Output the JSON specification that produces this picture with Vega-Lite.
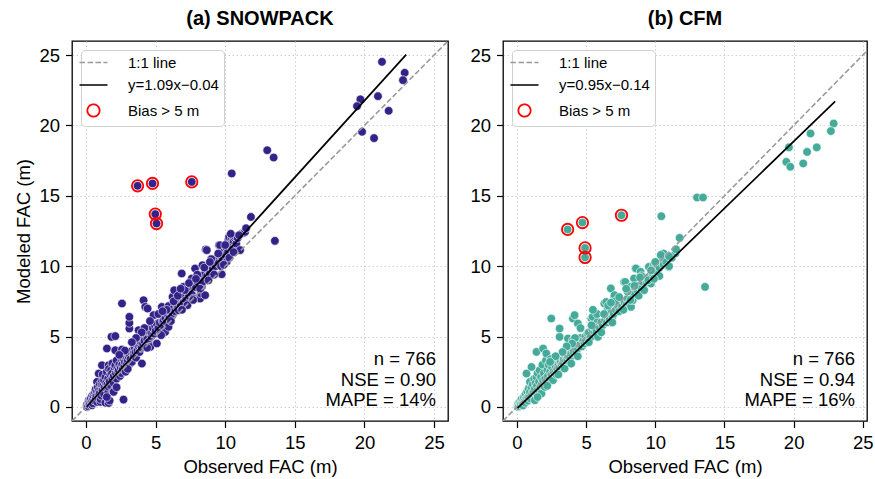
{
  "$schema": "https://vega.github.io/schema/vega-lite/v6.json",
  "background": "white",
  "padding": {"left": 14, "top": 8, "right": 0, "bottom": 0},
  "config": {
    "font": "Liberation Sans",
    "view": {"stroke": "black", "strokeWidth": 1.3},
    "axis": {"domain": false, "grid": true, "gridColor": "#c8c8c8", "gridDash": [1.5, 2.5], "gridWidth": 0.9,
             "tickColor": "black", "tickSize": 6.5, "tickWidth": 1.2, "labelFontSize": 18.5, "labelColor": "black",
             "labelPadding": 6, "titleFontSize": 18.5, "titleFontWeight": "normal", "titleColor": "black",
             "titlePadding": 5, "labelFlush": false},
    "title": {"fontSize": 20, "fontWeight": "bold", "color": "black", "offset": 12},
    "concat": {"spacing": 20}
  },
  "datasets": {
    "snow": [
      {"obs":0.05,"mod":0.1},{"obs":0.08,"mod":0.0},{"obs":0.1,"mod":0.2},{"obs":0.15,"mod":0.05},{"obs":0.2,"mod":0.48},{"obs":0.2,"mod":0.3},{"obs":0.25,"mod":0.15},{"obs":0.3,"mod":0.5},{"obs":0.3,"mod":0.25},{"obs":0.35,"mod":0.6},{"obs":0.4,"mod":0.35},{"obs":0.44,"mod":0.12},{"obs":0.45,"mod":0.8},{"obs":0.5,"mod":0.55},{"obs":0.5,"mod":0.25},{"obs":0.55,"mod":0.75},{"obs":0.6,"mod":0.95},{"obs":0.6,"mod":0.45},{"obs":0.65,"mod":1.05},{"obs":0.7,"mod":0.65},{"obs":0.7,"mod":1.25},{"obs":0.75,"mod":0.85},{"obs":0.8,"mod":0.35},{"obs":0.8,"mod":1.1},{"obs":0.8,"mod":1.78},{"obs":0.85,"mod":1.4},{"obs":0.9,"mod":0.9},{"obs":0.9,"mod":0.6},{"obs":0.92,"mod":2.37},{"obs":0.95,"mod":1.2},{"obs":1.0,"mod":1.0},{"obs":1.0,"mod":1.6},{"obs":1.04,"mod":0.36},{"obs":1.05,"mod":0.55},{"obs":1.1,"mod":1.3},{"obs":1.1,"mod":0.8},{"obs":1.15,"mod":1.8},{"obs":1.15,"mod":1.54},{"obs":1.15,"mod":2.96},{"obs":1.2,"mod":1.2},{"obs":1.2,"mod":2.3},
      {"obs":1.25,"mod":1.5},{"obs":1.3,"mod":0.9},{"obs":1.3,"mod":1.9},{"obs":1.35,"mod":1.4},{"obs":1.4,"mod":2.13},{"obs":1.4,"mod":0.3},{"obs":1.45,"mod":1.7},{"obs":1.5,"mod":1.3},{"obs":1.5,"mod":2.5},{"obs":1.51,"mod":4.15},{"obs":1.55,"mod":1.6},{"obs":1.6,"mod":2.0},{"obs":1.6,"mod":1.0},{"obs":1.63,"mod":1.42},{"obs":1.63,"mod":2.96},{"obs":1.63,"mod":0.28},{"obs":1.65,"mod":2.7},{"obs":1.7,"mod":1.8},{"obs":1.7,"mod":0.45},{"obs":1.75,"mod":2.3},{"obs":1.8,"mod":1.5},{"obs":1.8,"mod":2.6},{"obs":1.83,"mod":4.98},{"obs":1.87,"mod":2.37},{"obs":1.9,"mod":2.0},{"obs":1.9,"mod":3.1},{"obs":1.95,"mod":1.1},{"obs":1.99,"mod":1.07},{"obs":2.0,"mod":2.2},{"obs":2.0,"mod":1.7},{"obs":2.05,"mod":2.8},{"obs":2.11,"mod":5.03},{"obs":2.11,"mod":4.03},{"obs":2.11,"mod":2.96},
      {"obs":2.15,"mod":2.4},{"obs":2.2,"mod":2.0},{"obs":2.2,"mod":3.3},{"obs":2.25,"mod":2.7},{"obs":2.3,"mod":2.5},{"obs":2.35,"mod":2.61},{"obs":2.4,"mod":3.0},{"obs":2.45,"mod":2.2},{"obs":2.5,"mod":2.8},{"obs":2.5,"mod":3.6},{"obs":2.55,"mod":2.4},{"obs":2.59,"mod":4.08},{"obs":2.59,"mod":3.32},{"obs":2.6,"mod":3.0},{"obs":2.65,"mod":2.7},{"obs":2.7,"mod":0.52},{"obs":2.7,"mod":3.4},{"obs":2.75,"mod":2.9},{"obs":2.8,"mod":3.2},{"obs":2.85,"mod":2.5},{"obs":2.9,"mod":3.5},{"obs":2.95,"mod":3.1},{"obs":2.59,"mod":7.35},
      {"obs":3.0,"mod":3.3},{"obs":3.07,"mod":3.55},{"obs":3.1,"mod":3.0},{"obs":3.12,"mod":5.57},{"obs":3.12,"mod":5.97},{"obs":3.12,"mod":6.4},{"obs":3.15,"mod":3.7},{"obs":3.2,"mod":3.4},{"obs":3.25,"mod":3.9},{"obs":3.3,"mod":3.2},{"obs":3.35,"mod":4.03},{"obs":3.42,"mod":3.8},{"obs":3.45,"mod":3.6},{"obs":3.5,"mod":4.2},{"obs":3.55,"mod":3.9},{"obs":3.6,"mod":3.5},{"obs":3.65,"mod":4.4},{"obs":3.7,"mod":4.0},{"obs":3.78,"mod":5.45},{"obs":3.8,"mod":4.3},{"obs":3.85,"mod":3.9},{"obs":3.9,"mod":4.39},{"obs":3.95,"mod":4.6},{"obs":4.0,"mod":4.2},{"obs":4.02,"mod":3.08},
      {"obs":4.05,"mod":4.9},{"obs":4.1,"mod":4.5},{"obs":4.14,"mod":4.98},{"obs":4.14,"mod":7.58},{"obs":4.26,"mod":7.11},{"obs":4.43,"mod":6.99},{"obs":4.2,"mod":4.7},{"obs":4.3,"mod":4.3},{"obs":4.35,"mod":5.1},{"obs":4.4,"mod":4.8},{"obs":4.5,"mod":5.57},{"obs":4.5,"mod":4.6},{"obs":4.55,"mod":4.26},{"obs":4.6,"mod":5.3},{"obs":4.62,"mod":4.26},{"obs":4.7,"mod":5.0},{"obs":4.74,"mod":5.22},{"obs":4.8,"mod":5.6},{"obs":4.86,"mod":6.52},{"obs":4.9,"mod":5.2},{"obs":4.95,"mod":5.8},
      {"obs":5.0,"mod":5.4},{"obs":5.09,"mod":4.51},{"obs":5.1,"mod":5.9},{"obs":5.2,"mod":5.6},{"obs":5.3,"mod":6.0},{"obs":5.35,"mod":5.3},{"obs":5.45,"mod":7.11},{"obs":5.5,"mod":6.1},{"obs":5.57,"mod":6.16},{"obs":5.6,"mod":5.7},{"obs":5.69,"mod":5.33},{"obs":5.7,"mod":6.3},{"obs":5.8,"mod":6.0},{"obs":5.9,"mod":6.5},{"obs":5.93,"mod":5.69},{"obs":5.93,"mod":7.16},
      {"obs":6.0,"mod":6.3},{"obs":6.1,"mod":6.8},{"obs":6.2,"mod":6.5},{"obs":6.22,"mod":7.82},{"obs":6.3,"mod":7.0},{"obs":6.34,"mod":8.29},{"obs":6.4,"mod":6.8},{"obs":6.5,"mod":7.3},{"obs":6.6,"mod":7.0},{"obs":6.65,"mod":6.87},{"obs":6.7,"mod":7.5},{"obs":6.8,"mod":7.2},{"obs":6.88,"mod":9.48},{"obs":6.9,"mod":7.8},{"obs":7.0,"mod":8.53},{"obs":7.0,"mod":7.4},
      {"obs":7.1,"mod":7.9},{"obs":7.2,"mod":7.6},{"obs":7.29,"mod":7.23},{"obs":7.3,"mod":8.2},{"obs":7.4,"mod":7.9},{"obs":7.5,"mod":8.4},{"obs":7.6,"mod":9.13},{"obs":7.6,"mod":8.0},{"obs":7.7,"mod":8.6},{"obs":7.72,"mod":7.7},{"obs":7.84,"mod":9.84},{"obs":7.9,"mod":8.5},{"obs":8.0,"mod":8.9},{"obs":8.13,"mod":7.7},{"obs":8.2,"mod":7.7},
      {"obs":8.25,"mod":8.06},{"obs":8.3,"mod":9.2},{"obs":8.32,"mod":8.53},{"obs":8.37,"mod":10.07},{"obs":8.4,"mod":8.9},{"obs":8.5,"mod":9.4},{"obs":8.56,"mod":7.94},{"obs":8.6,"mod":11.18},{"obs":8.68,"mod":11.14},{"obs":8.7,"mod":9.3},{"obs":8.8,"mod":9.7},{"obs":8.9,"mod":9.5},{"obs":9.0,"mod":10.0},
      {"obs":9.1,"mod":9.8},{"obs":9.2,"mod":10.3},{"obs":9.3,"mod":10.0},{"obs":9.4,"mod":10.6},{"obs":9.5,"mod":10.2},{"obs":9.56,"mod":11.49},{"obs":9.63,"mod":11.49},{"obs":9.7,"mod":10.7},{"obs":9.75,"mod":9.43},{"obs":9.8,"mod":10.4},{"obs":9.9,"mod":11.0},{"obs":10.0,"mod":10.8},
      {"obs":10.1,"mod":11.3},{"obs":10.11,"mod":10.31},{"obs":10.2,"mod":11.0},{"obs":10.23,"mod":11.85},{"obs":10.28,"mod":12.08},{"obs":10.3,"mod":11.5},{"obs":10.47,"mod":12.04},{"obs":10.5,"mod":11.2},{"obs":10.6,"mod":11.8},{"obs":10.64,"mod":12.04},{"obs":10.75,"mod":12.08},{"obs":10.8,"mod":11.6},{"obs":10.9,"mod":12.0},{"obs":11.07,"mod":11.14},{"obs":11.19,"mod":12.32},{"obs":11.35,"mod":12.37},{"obs":11.43,"mod":12.44},{"obs":11.85,"mod":13.5},
      {"obs":4.2,"mod":5.6},{"obs":4.6,"mod":6.1},{"obs":5.2,"mod":6.6},{"obs":5.4,"mod":5.1},{"obs":5.8,"mod":6.9},{"obs":6.1,"mod":6.1},{"obs":6.3,"mod":7.5},{"obs":6.6,"mod":7.9},{"obs":6.9,"mod":6.9},{"obs":7.1,"mod":8.3},{"obs":7.4,"mod":8.8},{"obs":7.7,"mod":7.6},{"obs":8.0,"mod":9.4},{"obs":8.2,"mod":8.4},{"obs":8.5,"mod":9.9},{"obs":8.8,"mod":9.0},{"obs":9.0,"mod":10.5},{"obs":9.2,"mod":9.4},{"obs":9.5,"mod":10.9},{"obs":9.7,"mod":10.0},{"obs":10.0,"mod":11.5},{"obs":10.3,"mod":10.6},{"obs":10.6,"mod":11.0},{"obs":9.9,"mod":10.1},{"obs":5.5,"mod":6.8},{"obs":4.0,"mod":5.3},{"obs":3.6,"mod":4.9},{"obs":3.3,"mod":4.6},{"obs":2.8,"mod":4.0},{"obs":2.4,"mod":3.7},{"obs":6.8,"mod":8.4},{"obs":7.9,"mod":9.1},{"obs":8.9,"mod":10.3},{"obs":10.4,"mod":12.3},{"obs":11.0,"mod":12.2},{"obs":11.5,"mod":12.7},{"obs":3.0,"mod":2.7},{"obs":2.2,"mod":1.4},{"obs":1.5,"mod":0.7},{"obs":4.4,"mod":4.2},
      {"obs":10.47,"mod":16.59},{"obs":13.02,"mod":18.24},{"obs":13.48,"mod":17.72},{"obs":13.57,"mod":11.8},{"obs":19.71,"mod":21.85},{"obs":19.47,"mod":21.37},{"obs":20.97,"mod":22.08},{"obs":21.74,"mod":21.04},{"obs":19.83,"mod":19.55},{"obs":20.69,"mod":19.1},{"obs":21.26,"mod":24.52},{"obs":22.89,"mod":23.74},{"obs":22.77,"mod":23.22},
      {"obs":3.71,"mod":15.71,"flag":1},{"obs":4.78,"mod":15.88,"flag":1},{"obs":7.6,"mod":15.99,"flag":1},{"obs":4.98,"mod":13.7,"flag":1},{"obs":5.07,"mod":13.03,"flag":1}
    ],
    "cfm": [
      {"obs":0.05,"mod":0.1},{"obs":0.08,"mod":0.0},{"obs":0.11,"mod":0.24},{"obs":0.15,"mod":0.05},{"obs":0.2,"mod":0.35},{"obs":0.25,"mod":0.15},{"obs":0.3,"mod":0.5},{"obs":0.3,"mod":0.2},{"obs":0.35,"mod":0.55},{"obs":0.4,"mod":0.3},{"obs":0.45,"mod":0.1},{"obs":0.47,"mod":0.48},{"obs":0.5,"mod":0.7},{"obs":0.55,"mod":0.4},{"obs":0.6,"mod":0.85},{"obs":0.6,"mod":0.3},{"obs":0.65,"mod":0.9},{"obs":0.7,"mod":2.37},{"obs":0.7,"mod":0.6},{"obs":0.75,"mod":1.1},{"obs":0.8,"mod":0.45},{"obs":0.82,"mod":0.71},{"obs":0.85,"mod":1.3},{"obs":0.9,"mod":0.8},{"obs":0.95,"mod":1.78},{"obs":0.95,"mod":1.05},{"obs":1.0,"mod":0.6},{"obs":1.05,"mod":1.4},{"obs":1.06,"mod":2.84},{"obs":1.1,"mod":0.9},{"obs":1.15,"mod":1.6},{"obs":1.2,"mod":1.1},{"obs":1.25,"mod":2.0},{"obs":1.3,"mod":0.48},{"obs":1.3,"mod":1.3},{"obs":1.35,"mod":1.7},
      {"obs":1.4,"mod":1.0},{"obs":1.42,"mod":2.13},{"obs":1.42,"mod":3.91},{"obs":1.45,"mod":1.5},{"obs":1.5,"mod":2.4},{"obs":1.55,"mod":1.2},{"obs":1.6,"mod":1.8},{"obs":1.65,"mod":2.6},{"obs":1.7,"mod":1.4},{"obs":1.75,"mod":2.1},{"obs":1.78,"mod":0.95},{"obs":1.8,"mod":1.6},{"obs":1.85,"mod":3.0},{"obs":1.9,"mod":4.15},{"obs":1.9,"mod":1.9},{"obs":1.95,"mod":2.4},{"obs":2.02,"mod":1.42},{"obs":2.05,"mod":2.0},{"obs":2.1,"mod":3.3},{"obs":2.13,"mod":3.8},{"obs":2.15,"mod":1.8},
      {"obs":2.2,"mod":2.6},{"obs":2.25,"mod":2.2},{"obs":2.3,"mod":3.0},{"obs":2.35,"mod":1.9},{"obs":2.4,"mod":2.5},{"obs":2.45,"mod":3.4},{"obs":2.49,"mod":6.28},{"obs":2.5,"mod":2.3},{"obs":2.55,"mod":2.8},{"obs":2.61,"mod":1.9},{"obs":2.65,"mod":2.5},{"obs":2.7,"mod":3.1},{"obs":2.75,"mod":2.4},{"obs":2.8,"mod":2.9},{"obs":2.85,"mod":2.3},{"obs":2.9,"mod":3.3},{"obs":2.95,"mod":2.7},
      {"obs":3.0,"mod":2.9},{"obs":3.05,"mod":3.4},{"obs":3.09,"mod":4.98},{"obs":3.09,"mod":5.57},{"obs":3.1,"mod":2.8},{"obs":3.15,"mod":3.2},{"obs":3.21,"mod":3.55},{"obs":3.25,"mod":3.0},{"obs":3.3,"mod":3.6},{"obs":3.35,"mod":3.1},{"obs":3.4,"mod":3.4},{"obs":3.45,"mod":2.73},{"obs":3.5,"mod":3.7},{"obs":3.55,"mod":3.3},{"obs":3.6,"mod":3.9},{"obs":3.65,"mod":3.4},{"obs":3.69,"mod":4.86},{"obs":3.7,"mod":3.6},{"obs":3.8,"mod":3.9},{"obs":3.85,"mod":3.5},{"obs":3.93,"mod":3.8},{"obs":3.93,"mod":3.08},{"obs":3.95,"mod":4.2},
      {"obs":4.05,"mod":4.74},{"obs":4.05,"mod":6.28},{"obs":4.1,"mod":3.9},{"obs":4.17,"mod":6.52},{"obs":4.2,"mod":4.3},{"obs":4.3,"mod":3.9},{"obs":4.35,"mod":4.6},{"obs":4.41,"mod":5.93},{"obs":4.41,"mod":4.15},{"obs":4.5,"mod":4.4},{"obs":4.6,"mod":4.9},{"obs":4.7,"mod":4.3},{"obs":4.8,"mod":4.7},{"obs":4.89,"mod":4.51},{"obs":4.95,"mod":5.0},
      {"obs":5.0,"mod":4.7},{"obs":5.12,"mod":5.22},{"obs":5.2,"mod":5.3},{"obs":5.3,"mod":4.9},{"obs":5.39,"mod":6.28},{"obs":5.45,"mod":5.5},{"obs":5.48,"mod":6.4},{"obs":5.6,"mod":5.33},{"obs":5.65,"mod":5.6},{"obs":5.75,"mod":5.3},{"obs":5.84,"mod":6.04},{"obs":5.86,"mod":4.98},{"obs":5.9,"mod":5.7},
      {"obs":6.0,"mod":5.6},{"obs":6.1,"mod":6.0},{"obs":6.2,"mod":5.8},{"obs":6.32,"mod":7.35},{"obs":6.35,"mod":6.1},{"obs":6.46,"mod":7.46},{"obs":6.5,"mod":6.0},{"obs":6.55,"mod":6.87},{"obs":6.6,"mod":6.4},{"obs":6.7,"mod":6.2},{"obs":6.79,"mod":8.42},{"obs":6.8,"mod":6.7},{"obs":6.91,"mod":6.4},{"obs":7.0,"mod":6.6},
      {"obs":7.03,"mod":7.82},{"obs":7.06,"mod":7.94},{"obs":7.15,"mod":6.9},{"obs":7.3,"mod":7.2},{"obs":7.4,"mod":6.8},{"obs":7.51,"mod":7.58},{"obs":7.6,"mod":7.1},{"obs":7.75,"mod":8.88},{"obs":7.8,"mod":7.4},{"obs":7.84,"mod":8.88},{"obs":7.95,"mod":7.3},{"obs":8.0,"mod":7.7},
      {"obs":8.11,"mod":7.35},{"obs":8.22,"mod":8.53},{"obs":8.25,"mod":7.11},{"obs":8.37,"mod":7.58},{"obs":8.4,"mod":8.0},{"obs":8.47,"mod":9.13},{"obs":8.58,"mod":9.84},{"obs":8.61,"mod":9.84},{"obs":8.7,"mod":8.3},{"obs":8.8,"mod":8.6},{"obs":8.94,"mod":9.6},{"obs":9.0,"mod":8.4},
      {"obs":9.1,"mod":8.9},{"obs":9.25,"mod":9.2},{"obs":9.4,"mod":8.8},{"obs":9.54,"mod":9.95},{"obs":9.6,"mod":9.3},{"obs":9.66,"mod":8.77},{"obs":9.69,"mod":8.77},{"obs":9.8,"mod":9.4},{"obs":9.9,"mod":10.07},{"obs":10.0,"mod":9.6},
      {"obs":10.04,"mod":10.19},{"obs":10.14,"mod":9.6},{"obs":10.3,"mod":9.9},{"obs":10.37,"mod":10.43},{"obs":10.52,"mod":10.48},{"obs":10.6,"mod":10.1},{"obs":10.8,"mod":10.3},{"obs":10.97,"mod":9.95},{"obs":11.0,"mod":10.0},{"obs":11.2,"mod":10.6},{"obs":11.45,"mod":10.9},{"obs":11.76,"mod":12.01},
      {"obs":4.2,"mod":4.9},{"obs":4.6,"mod":5.6},{"obs":5.2,"mod":4.6},{"obs":5.4,"mod":5.8},{"obs":5.8,"mod":6.6},{"obs":6.1,"mod":5.3},{"obs":6.3,"mod":6.6},{"obs":6.6,"mod":7.2},{"obs":6.9,"mod":6.0},{"obs":7.1,"mod":7.5},{"obs":7.4,"mod":7.8},{"obs":7.7,"mod":6.9},{"obs":8.0,"mod":8.2},{"obs":8.2,"mod":7.6},{"obs":8.5,"mod":8.6},{"obs":8.8,"mod":7.9},{"obs":9.0,"mod":9.3},{"obs":9.2,"mod":8.3},{"obs":9.5,"mod":9.0},{"obs":9.7,"mod":9.7},{"obs":10.0,"mod":10.3},{"obs":10.3,"mod":9.3},{"obs":10.6,"mod":10.9},{"obs":9.9,"mod":9.1},{"obs":5.5,"mod":6.9},{"obs":4.0,"mod":4.5},{"obs":3.6,"mod":4.3},{"obs":3.3,"mod":3.9},{"obs":2.8,"mod":3.6},{"obs":2.4,"mod":3.2},{"obs":6.8,"mod":7.4},{"obs":7.9,"mod":8.4},{"obs":8.9,"mod":9.2},{"obs":10.4,"mod":10.8},{"obs":11.0,"mod":10.7},{"obs":11.5,"mod":11.2},{"obs":3.0,"mod":2.3},{"obs":2.2,"mod":1.5},{"obs":1.5,"mod":0.7},{"obs":4.4,"mod":3.6},
      {"obs":10.44,"mod":13.55},{"obs":13.02,"mod":14.88},{"obs":13.45,"mod":14.88},{"obs":13.6,"mod":8.53},{"obs":22.89,"mod":20.14},{"obs":22.69,"mod":19.6},{"obs":21.22,"mod":19.43},{"obs":21.67,"mod":18.44},{"obs":20.97,"mod":18.12},{"obs":19.66,"mod":18.44},{"obs":19.47,"mod":17.41},{"obs":19.76,"mod":17.06},{"obs":20.69,"mod":17.3},
      {"obs":3.67,"mod":12.61,"flag":1},{"obs":4.74,"mod":13.1,"flag":1},{"obs":7.56,"mod":13.62,"flag":1},{"obs":4.93,"mod":11.3,"flag":1},{"obs":4.93,"mod":10.62,"flag":1}
    ]
  },
  "hconcat": [
    {
      "width": 376, "height": 380,
      "title": {"text": "(a) SNOWPACK"},
      "encoding": {
        "x": {"field": "obs", "type": "quantitative", "scale": {"domain": [-1, 26], "nice": false, "zero": false}, "axis": {"title": "Observed FAC (m)", "values": [0, 5, 10, 15, 20, 25]}},
        "y": {"field": "mod", "type": "quantitative", "scale": {"domain": [-1, 26], "nice": false, "zero": false}, "axis": {"title": "Modeled FAC (m)", "values": [0, 5, 10, 15, 20, 25]}}
      },
      "layer": [
        {"data": {"name": "snow"}, "mark": {"type": "circle", "size": 74, "color": "#332288", "opacity": 1, "stroke": "white", "strokeWidth": 0.6}},
        {"data": {"values": [{"obs": -1, "mod": -1}, {"obs": 26, "mod": 26}]},
         "mark": {"type": "line", "strokeDash": [5.5, 2.5], "strokeWidth": 1.6, "clip": true},
         "encoding": {"stroke": {"datum": "1:1 line", "type": "nominal",
            "scale": {"domain": ["1:1 line", "y=1.09x−0.04", "Bias > 5 m"], "range": ["#9a9a9a", "black", "red"]},
            "legend": {"title": null, "orient": "top-left", "offset": 9, "fillColor": "white", "strokeColor": "#d0d0d0",
              "cornerRadius": 4, "padding": 5, "labelFontSize": 15, "labelColor": "black", "symbolSize": 784,
              "symbolStrokeWidth": 1.6, "rowPadding": 6.5, "labelOffset": 27, "labelLimit": 300,
              "encode": {"symbols": {"update": {
                "shape": {"signal": "datum.value == 'Bias > 5 m' ? 'circle' : 'stroke'"},
                "size": {"signal": "datum.value == 'Bias > 5 m' ? 150 : 784"},
                "strokeDash": {"signal": "datum.value == '1:1 line' ? [5.5, 2.5] : [1, 0]"},
                "strokeWidth": {"signal": "datum.value == 'Bias > 5 m' ? 1.8 : 1.6"},
                "fill": {"value": "transparent"}, "opacity": {"value": 1}}}}}}}},
        {"data": {"values": [{"obs": 0.05, "mod": 0.01}, {"obs": 23.0, "mod": 25.03}]},
         "mark": {"type": "line", "strokeWidth": 1.7},
         "encoding": {"stroke": {"datum": "y=1.09x−0.04", "type": "nominal"}}},
        {"data": {"name": "snow"}, "transform": [{"filter": "datum.flag === 1"}],
         "mark": {"type": "point", "shape": "circle", "filled": false, "size": 130, "strokeWidth": 1.8, "opacity": 1},
         "encoding": {"stroke": {"datum": "Bias > 5 m", "type": "nominal"}}},
        {"data": {"values": [{"label": "n = 766\nNSE = 0.90\nMAPE = 14%"}]},
         "mark": {"type": "text", "align": "right", "baseline": "alphabetic", "fontSize": 18.5, "lineHeight": 20.5, "lineBreak": "\n", "dx": -12, "dy": -56, "color": "black"},
         "encoding": {"x": {"value": "width"}, "y": {"value": "height"}, "text": {"field": "label"}}}
      ]
    },
    {
      "width": 364, "height": 380,
      "title": {"text": "(b) CFM"},
      "encoding": {
        "x": {"field": "obs", "type": "quantitative", "scale": {"domain": [-1, 25.3], "nice": false, "zero": false}, "axis": {"title": "Observed FAC (m)", "values": [0, 5, 10, 15, 20, 25]}},
        "y": {"field": "mod", "type": "quantitative", "scale": {"domain": [-1, 26], "nice": false, "zero": false}, "axis": {"title": null, "values": [0, 5, 10, 15, 20, 25]}}
      },
      "layer": [
        {"data": {"name": "cfm"}, "mark": {"type": "circle", "size": 74, "color": "#44AA99", "opacity": 1, "stroke": "white", "strokeWidth": 0.6}},
        {"data": {"values": [{"obs": -1, "mod": -1}, {"obs": 26, "mod": 26}]},
         "mark": {"type": "line", "strokeDash": [5.5, 2.5], "strokeWidth": 1.6, "clip": true},
         "encoding": {"stroke": {"datum": "1:1 line", "type": "nominal",
            "scale": {"domain": ["1:1 line", "y=0.95x−0.14", "Bias > 5 m"], "range": ["#9a9a9a", "black", "red"]},
            "legend": {"title": null, "orient": "top-left", "offset": 9, "fillColor": "white", "strokeColor": "#d0d0d0",
              "cornerRadius": 4, "padding": 5, "labelFontSize": 15, "labelColor": "black", "symbolSize": 784,
              "symbolStrokeWidth": 1.6, "rowPadding": 6.5, "labelOffset": 27, "labelLimit": 300,
              "encode": {"symbols": {"update": {
                "shape": {"signal": "datum.value == 'Bias > 5 m' ? 'circle' : 'stroke'"},
                "size": {"signal": "datum.value == 'Bias > 5 m' ? 150 : 784"},
                "strokeDash": {"signal": "datum.value == '1:1 line' ? [5.5, 2.5] : [1, 0]"},
                "strokeWidth": {"signal": "datum.value == 'Bias > 5 m' ? 1.8 : 1.6"},
                "fill": {"value": "transparent"}, "opacity": {"value": 1}}}}}}}},
        {"data": {"values": [{"obs": 0.05, "mod": -0.09}, {"obs": 23.0, "mod": 21.71}]},
         "mark": {"type": "line", "strokeWidth": 1.7},
         "encoding": {"stroke": {"datum": "y=0.95x−0.14", "type": "nominal"}}},
        {"data": {"name": "cfm"}, "transform": [{"filter": "datum.flag === 1"}],
         "mark": {"type": "point", "shape": "circle", "filled": false, "size": 130, "strokeWidth": 1.8, "opacity": 1},
         "encoding": {"stroke": {"datum": "Bias > 5 m", "type": "nominal"}}},
        {"data": {"values": [{"label": "n = 766\nNSE = 0.94\nMAPE = 16%"}]},
         "mark": {"type": "text", "align": "right", "baseline": "alphabetic", "fontSize": 18.5, "lineHeight": 20.5, "lineBreak": "\n", "dx": -12, "dy": -56, "color": "black"},
         "encoding": {"x": {"value": "width"}, "y": {"value": "height"}, "text": {"field": "label"}}}
      ]
    }
  ],
  "resolve": {"scale": {"stroke": "independent"}, "legend": {"stroke": "independent"}}
}
